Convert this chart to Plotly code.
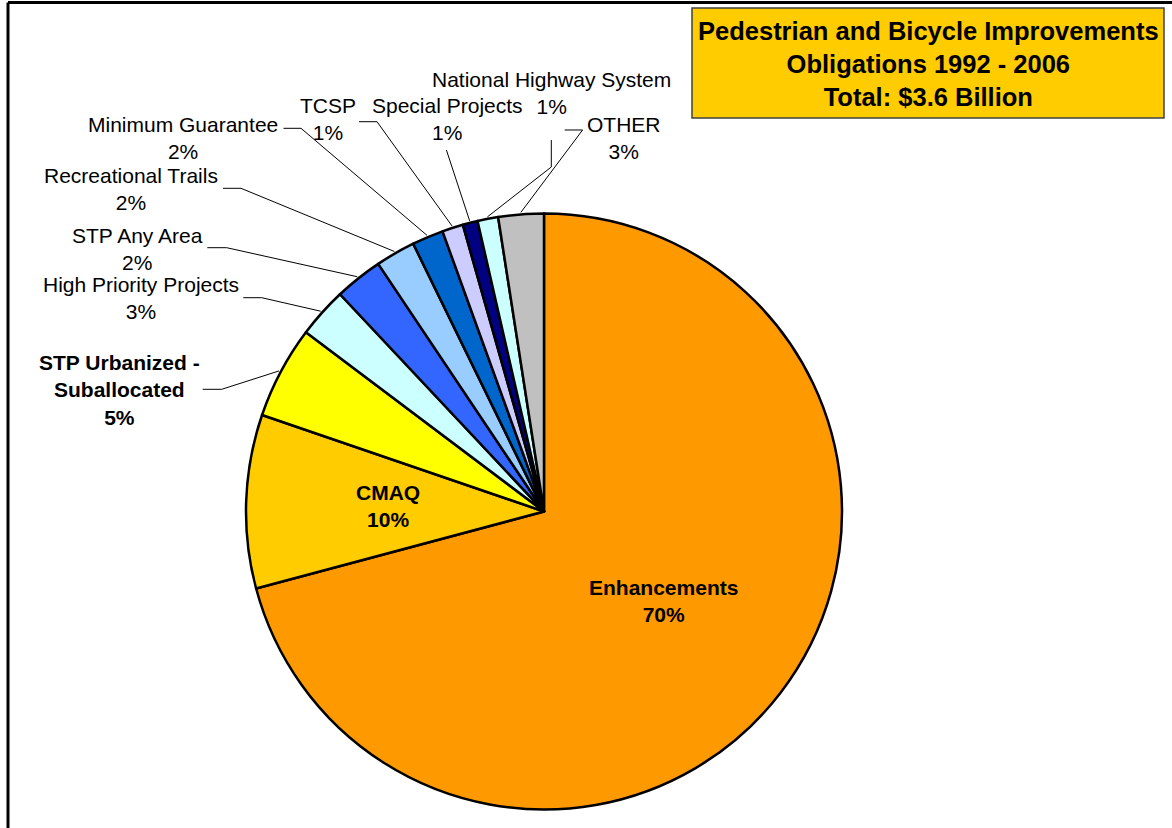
import math
import plotly.graph_objects as go

# ---------------- data ----------------
categories = ["Enhancements", "CMAQ", "STP Urbanized - Suballocated",
              "High Priority Projects", "STP Any Area", "Recreational Trails",
              "Minimum Guarantee", "TCSP", "Special Projects",
              "National Highway System", "OTHER"]
values = [70.84, 9.41, 5.02, 2.73, 2.61, 2.16, 1.70, 1.14, 0.81, 1.12, 2.46]
pct_labels = ["70%", "10%", "5%", "3%", "2%", "2%", "2%", "1%", "1%", "1%", "3%"]
colors = ["#FF9900", "#FFCC00", "#FFFF00", "#CCFFFF", "#3366FF", "#99CCFF",
          "#0066CC", "#CCCCFF", "#000080", "#CCFFFF", "#C0C0C0"]
title_lines = ["Pedestrian and Bicycle Improvements",
               "Obligations 1992 - 2006", "Total: $3.6 Billion"]

# ---------------- layout geometry (pixels) ----------------
W, H = 1172, 828
CX, CY, R = 544, 511.5, 298
FONT = "Liberation Sans, Arial, sans-serif"

# label text, centre position, bold flag, leader stub points (None = inside label)
label_cfg = {
    "Enhancements": ("Enhancements", 663, 601, True, None),
    "CMAQ": ("CMAQ", 388, 506, True, None),
    "STP Urbanized - Suballocated": ("STP Urbanized -<br>Suballocated", 119, 390, True,
                                     [(202.7, 389.3), (221.7, 389.3)]),
    "High Priority Projects": ("High Priority Projects", 141, 298, False,
                               [(243.3, 297.7), (261.7, 297.7)]),
    "STP Any Area": ("STP Any Area", 137, 249, False,
                     [(207.3, 247.7), (226.7, 247.7)]),
    "Recreational Trails": ("Recreational Trails", 131, 189, False,
                            [(223, 188.3), (241, 188.3)]),
    "Minimum Guarantee": ("Minimum Guarantee", 182.5, 138.5, False,
                          [(283.5, 128.3), (301, 128.3)]),
    "TCSP": ("TCSP", 328, 119.5, False, [(359, 121.7), (377, 121.7)]),
    "Special Projects": ("Special Projects", 447, 119.5, False, [(446.4, 150)]),
    "National Highway System": ("National Highway System", 551.5, 93, False,
                                [(551.3, 140), (551.3, 167)]),
    "OTHER": ("OTHER", 624, 138.5, False, [(564.7, 130), (582.6, 130)]),
}


def px2paper(x, y):
    return x / W, 1 - y / H


fig = go.Figure()
fig.add_trace(go.Pie(
    labels=categories, values=values, sort=False, direction="clockwise",
    rotation=0, textinfo="none", showlegend=False,
    marker=dict(colors=colors, line=dict(color="black", width=2.5)),
    domain=dict(x=[(CX - R) / W, (CX + R) / W],
                y=[(H - CY - R) / H, (H - CY + R) / H]),
    hoverinfo="label+percent",
))

annotations = []
shapes = []
total = sum(values)
cum = 0.0
for cat, v, pl in zip(categories, values, pct_labels):
    mid = math.radians((cum + v / 2) / total * 360)
    cum += v
    text, lx, ly, bold, stub = label_cfg[cat]
    full = f"{text}<br>{pl}"
    if bold:
        full = f"<b>{full}</b>"
    ax, ay = px2paper(lx, ly)
    annotations.append(dict(
        x=ax, y=ay, xref="paper", yref="paper", text=full, showarrow=False,
        xanchor="center", yanchor="middle", align="center",
        font=dict(family=FONT, size=21, color="black")))
    if stub:
        rr = R + 2
        end = (CX + rr * math.sin(mid), CY - rr * math.cos(mid))
        pts = stub + [end]
        path = ""
        for i, (x, y) in enumerate(pts):
            qx, qy = px2paper(x, y)
            path += ("M" if i == 0 else " L") + f"{qx:.5f},{qy:.5f}"
        shapes.append(dict(type="path", path=path, xref="paper", yref="paper",
                           line=dict(color="black", width=1)))

# title box
bx0, by0 = px2paper(692, 8)
bx1, by1 = px2paper(1164, 118)
shapes.append(dict(type="rect", xref="paper", yref="paper", x0=bx0, y0=by1,
                   x1=bx1, y1=by0, fillcolor="#FFCC00",
                   line=dict(color="#404040", width=1.5), layer="below"))
tx, ty = px2paper(928, 64)
annotations.append(dict(
    x=tx, y=ty, xref="paper", yref="paper",
    text="<b>" + "<br>".join(title_lines) + "</b>", showarrow=False,
    xanchor="center", yanchor="middle", align="center",
    font=dict(family=FONT, size=25.5, color="black")))

# outer frame (left and top edges visible)
fx, fy = px2paper(8, 2.5)
shapes.append(dict(type="line", xref="paper", yref="paper", x0=fx, y0=0,
                   x1=fx, y1=fy, line=dict(color="black", width=3)))
shapes.append(dict(type="line", xref="paper", yref="paper", x0=fx, y0=fy,
                   x1=1, y1=fy, line=dict(color="black", width=3)))

fig.update_layout(
    width=W, height=H, margin=dict(l=0, r=0, t=0, b=0),
    paper_bgcolor="white", plot_bgcolor="white",
    annotations=annotations, shapes=shapes,
)

fig.write_html("out.html",
               config={"displayModeBar": False},
               post_script="document.body.style.margin='0';"
                           "document.body.style.padding='0';"
                           "document.body.style.overflow='hidden';")
